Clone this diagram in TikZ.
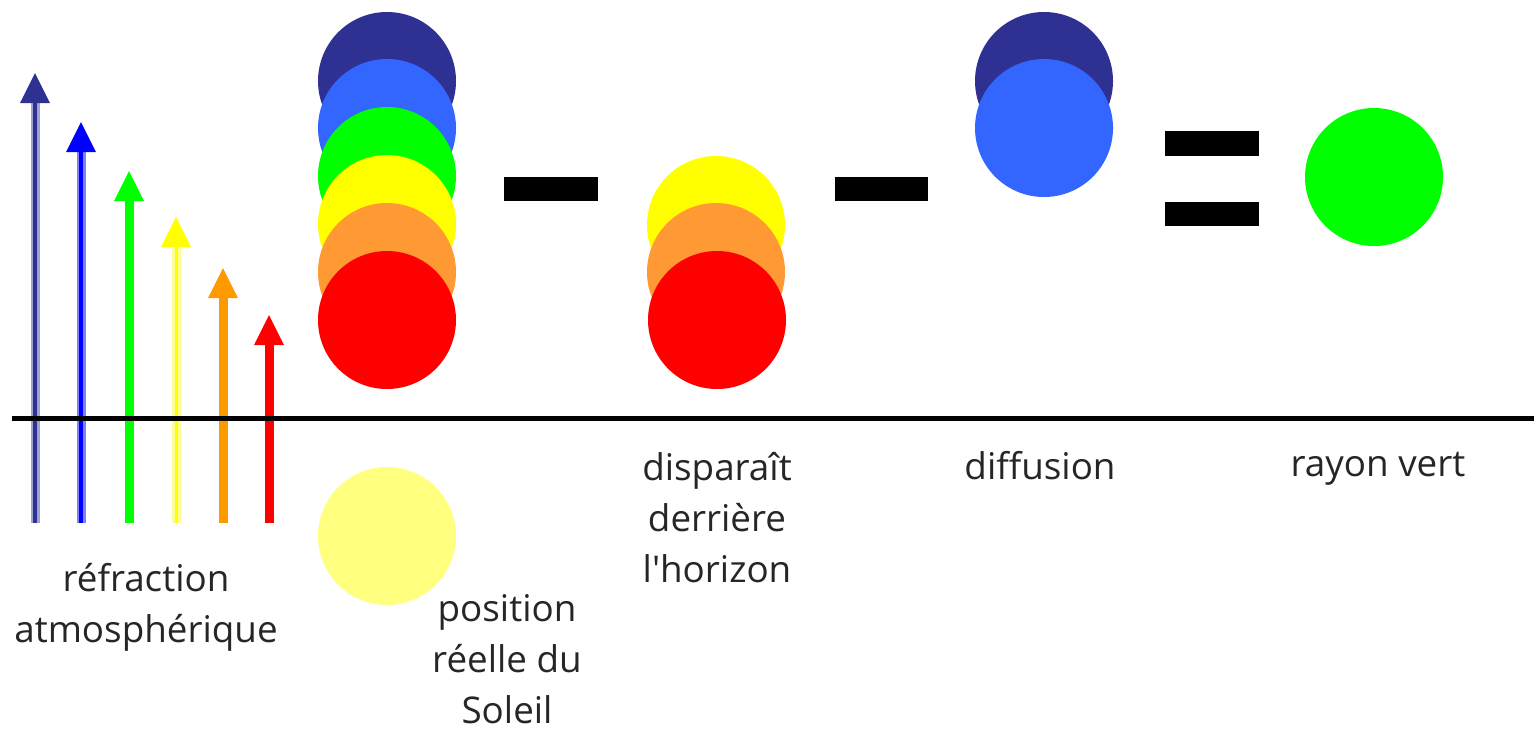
\documentclass[tikz,border=0pt]{standalone}
\usepackage{fontspec}
\newfontfamily\labelfont{Open Sans}
\definecolor{dblue}{HTML}{2E3192}
\definecolor{dbluehalo}{HTML}{A0A3D0}
\definecolor{pblue}{HTML}{0000FF}
\definecolor{pbluehalo}{HTML}{8080FF}
\definecolor{cblue}{HTML}{3366FF}
\definecolor{cgreen}{HTML}{00FF00}
\definecolor{cyellow}{HTML}{FFFF00}
\definecolor{yhalo}{HTML}{FFFF99}
\definecolor{aorange}{HTML}{FF9900}
\definecolor{corange}{HTML}{FF9933}
\definecolor{cred}{HTML}{FF0000}
\definecolor{pale}{HTML}{FFFF80}
\newcommand\myray[5]{% x, tip y, color, core width, halo color
  \draw[line width=4.5pt,#5] (#1,523) -- (#1,#2+28);
  \draw[line width=#4,#3] (#1,523) -- (#1,#2+28);
  \fill[#3] (#1-15,#2+30) -- (#1,#2) -- (#1+15,#2+30) -- cycle;
}
\begin{document}
\begin{tikzpicture}[x=0.5pt,y=-0.5pt,
  lbl/.style={font=\labelfont\fontsize{18.4}{25.5}\selectfont, align=center, text=black!85, inner sep=0pt},
  sun/.style={circle, minimum size=69pt, inner sep=0pt}]
\useasboundingbox (0,0) rectangle (1534,730);
\fill[white] (0,0) rectangle (1534,730);
% arrows
\myray{35}{73}{dblue}{2pt}{dbluehalo}
\myray{81}{122}{pblue}{2pt}{pbluehalo}
\myray{129}{171}{cgreen}{3pt}{cgreen}
\myray{176}{217}{cyellow}{1.5pt}{yhalo}
\myray{223}{268}{aorange}{3pt}{aorange}
\myray{269}{315}{cred}{3pt}{cred}
% left stack
\node[sun, fill=dblue] (s1) at (387,81) {};
\node[sun, fill=cblue] (s2) at (387,128) {};
\node[sun, fill=cgreen] (s3) at (387,176) {};
\node[sun, fill=cyellow] (s4) at (387,224) {};
\node[sun, fill=corange] (s5) at (387,272) {};
\node[sun, fill=cred] (s6) at (387,320) {};
% minus signs
\fill[black] (504,177) rectangle (598,201);
\fill[black] (835,177) rectangle (928,201);
% middle stack
\node[sun, fill=cyellow] (m1) at (716,225) {};
\node[sun, fill=corange] (m2) at (716,272) {};
\node[sun, fill=cred] (m3) at (717,320) {};
% diffusion
\node[sun, fill=dblue] (d1) at (1044,81) {};
\node[sun, fill=cblue] (d2) at (1044,128) {};
% equal sign
\fill[black] (1165,131) rectangle (1259,156);
\fill[black] (1165,202) rectangle (1259,226);
% green sun
\node[sun, fill=cgreen] (g) at (1374,177) {};
% real sun
\node[sun, fill=pale] (real) at (387,536) {};
% horizon
\draw[line width=2.5pt] (12,418) -- (1534,418);
% labels
\node[lbl] (t1) at (146,607) {réfraction\\atmosphérique};
\node[lbl] (t2) at (507,659) {position\\réelle du\\Soleil};
\node[lbl] (t3) at (717,518) {disparaît\\derrière\\l'horizon};
\node[lbl] (t4) at (1040,466) {diffusion};
\node[lbl] (t5) at (1378,469) {rayon vert};
\end{tikzpicture}
\end{document}
